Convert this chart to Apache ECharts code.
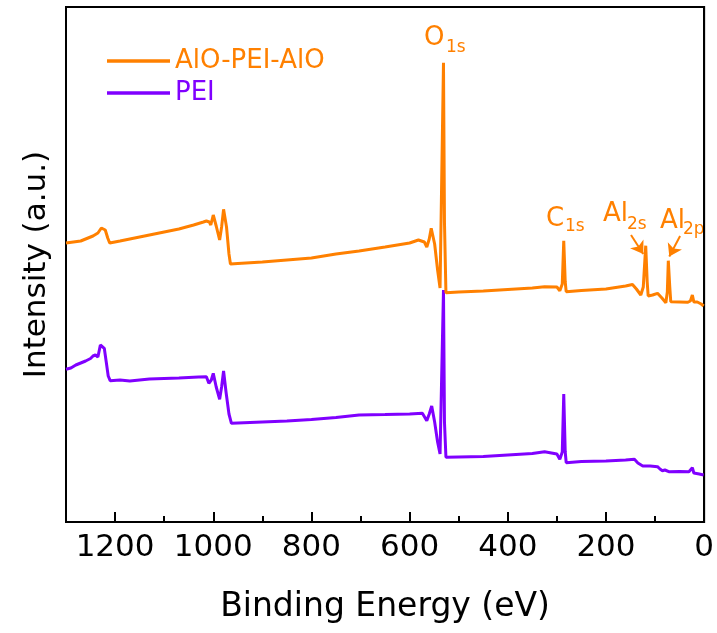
<!DOCTYPE html>
<html>
<head>
<meta charset="utf-8">
<script src="https://cdn.jsdelivr.net/npm/echarts@6/dist/echarts.min.js"></script>
<style>
html,body{margin:0;padding:0;background:#fff;}
#chart{width:717px;height:633px;}
</style>
</head>
<body>
<div id="chart"></div>
<script>
// Binding energy (eV) and intensity (a.u.) for AlO-PEI-AlO
const aloEnergy = [1300,1285,1270,1255,1245,1235,1228,1224,1220,1215,1211,1190,1160,1130,1100,1070,1040,1020,1014,1008,1005,1000,994,987,983,979,973,968,965,950,900,850,800,750,703,650,600,582,570,565,560,556,549,543,538,531,529,526,500,450,400,350,325,300,294,289,286,283,281,250,200,160,146,138,129,124,119,116,114,105,95,86,78,75,73,70,68,50,34,28,24,21,18,14,11,6,1];
const aloIntensity = [279,280,281,284,286,289,294,295.5,292,284,279,281,284,287,290,293,297,300,301,300,297,307,296,282,295,312.7,295,268,258,258.5,260,262,264,268,271,275,279,282,280,275,283,293.7,278,252,234,459.3,300,229.3,230,231,232.5,234,235.3,235,231.3,238,281.3,240,230.3,231.5,233,236,237.5,233,227,235,276.3,240,226,227,228.7,224,219.3,230,261.3,235,220.3,220,219.7,221,227,220,218.7,220,221,218,216];

// Binding energy (eV) and intensity (a.u.) for PEI
const peiEnergy = [1300,1290,1280,1270,1260,1250,1245,1240,1235,1230,1226,1222,1218,1214,1210,1190,1170,1150,1130,1100,1070,1050,1030,1014,1009,1004,1000,994,987,983,979,974,968,963,950,925,900,850,800,750,703,650,600,574,565,560,555,549,543,538,531,529,526,500,450,400,350,325,300,294,289,286,283,281,250,200,160,142,135,125,110,95,90,85,80,72,50,31,24,21,18,10,1];
const peiIntensity = [152.7,154,157,159,161,163.5,166,167,165,177,176,173.7,160,146,141.3,142,141,142,143,143.5,144,144.5,145,145.3,138.7,142,148.7,135,122.7,135,151,130,108,98.7,99,99.5,100,101,102.5,104.5,107,107.5,108,108.7,101.3,108,116,100,80,68,232,100,64.7,65,65.5,67,68.5,70.3,68,62.7,70,128,70,59.3,60.5,61,62,62.7,59,56,56,55.3,53,51.3,52,50.3,50.5,50.3,54.3,49,48,48,47];

const seriesNames = ['AlO-PEI-AlO', 'PEI'];
const seriesColors = ['#ff8000', '#8000ff'];
const xTickLabels = ['0','200','400','600','800','1000','1200'];

const FONT = 'DejaVu Sans';
const zip = (xs, ys) => xs.map((x, i) => [x, ys[i]]);

const chart = echarts.init(document.getElementById('chart'), null, {renderer: 'canvas'});

const arrowStyle = {color: seriesColors[0], width: 2, type: 'solid', opacity: 1};

const option = {
  animation: false,
  backgroundColor: '#fff',
  grid: {left: 66, right: 10, top: 7, bottom: 111, show: true, borderColor: '#000', borderWidth: 2, backgroundColor: 'transparent'},
  legend: {
    orient: 'vertical', left: 102, top: 43, itemWidth: 63, itemHeight: 3.5, itemGap: 6,
    icon: 'rect',
    data: [
      {name: seriesNames[0], textStyle: {color: seriesColors[0]}},
      {name: seriesNames[1], textStyle: {color: seriesColors[1]}}
    ],
    textStyle: {fontFamily: FONT, fontSize: 26}
  },
  xAxis: [{
    type: 'value', min: 0, max: 1300, interval: 200, inverse: true,
    name: 'Binding Energy (eV)', nameLocation: 'middle', nameGap: 69,
    nameTextStyle: {fontFamily: FONT, fontSize: 33, color: '#000'},
    axisLine: {show: true, lineStyle: {color: '#000', width: 2}},
    axisTick: {show: true, inside: true, length: 10, lineStyle: {color: '#000', width: 2}},
    axisLabel: {fontFamily: FONT, fontSize: 31, color: '#000', margin: 10, showMaxLabel: false,
      formatter: v => xTickLabels.includes(String(v)) ? String(v) : ''},
    splitLine: {show: false}
  }, {
    type: 'value', min: 0, max: 1300, interval: 100, inverse: true, position: 'bottom', gridIndex: 0,
    axisLine: {show: false},
    axisTick: {show: true, inside: true, length: 6, lineStyle: {color: '#000', width: 2}},
    axisLabel: {show: false},
    splitLine: {show: false}
  }],
  yAxis: {
    type: 'value', min: 0, max: 515,
    name: 'Intensity (a.u.)', nameLocation: 'middle', nameGap: 14,
    nameTextStyle: {fontFamily: FONT, fontSize: 31, color: '#000'},
    axisLine: {show: true, lineStyle: {color: '#000', width: 2}},
    axisTick: {show: false}, axisLabel: {show: false}, splitLine: {show: false}
  },
  series: [
    {
      name: seriesNames[1], type: 'line', showSymbol: false, symbol: 'none',
      data: zip(peiEnergy, peiIntensity),
      lineStyle: {color: seriesColors[1], width: 3}, itemStyle: {color: seriesColors[1]}, z: 2
    },
    {
      name: seriesNames[0], type: 'line', showSymbol: false, symbol: 'none',
      data: zip(aloEnergy, aloIntensity),
      lineStyle: {color: seriesColors[0], width: 3}, itemStyle: {color: seriesColors[0]}, z: 3,
      markLine: {
        silent: true, symbol: ['none', 'arrow'], symbolSize: 12,
        label: {show: false}, lineStyle: arrowStyle, itemStyle: {color: seriesColors[0]},
        emphasis: {disabled: true},
        data: [
          [{coord: [149, 287]}, {coord: [124, 268]}],
          [{coord: [49, 286]}, {coord: [71, 265.5]}]
        ]
      }
    }
  ],
  graphic: [
    {type: 'text', left: 424, top: 25, style: {text: 'O', font: '26px "DejaVu Sans"', fill: seriesColors[0]}},
    {type: 'text', left: 446, top: 39, style: {text: '1s', font: '17px "DejaVu Sans"', fill: seriesColors[0]}},
    {type: 'text', left: 546, top: 206, style: {text: 'C', font: '26px "DejaVu Sans"', fill: seriesColors[0]}},
    {type: 'text', left: 565, top: 218, style: {text: '1s', font: '17px "DejaVu Sans"', fill: seriesColors[0]}},
    {type: 'text', left: 603, top: 201, style: {text: 'Al', font: '26px "DejaVu Sans"', fill: seriesColors[0]}},
    {type: 'text', left: 627, top: 216, style: {text: '2s', font: '17px "DejaVu Sans"', fill: seriesColors[0]}},
    {type: 'text', left: 660, top: 208, style: {text: 'Al', font: '26px "DejaVu Sans"', fill: seriesColors[0]}},
    {type: 'text', left: 683, top: 221, style: {text: '2p', font: '17px "DejaVu Sans"', fill: seriesColors[0]}}
  ]
};
chart.setOption(option);
</script>
</body>
</html>
